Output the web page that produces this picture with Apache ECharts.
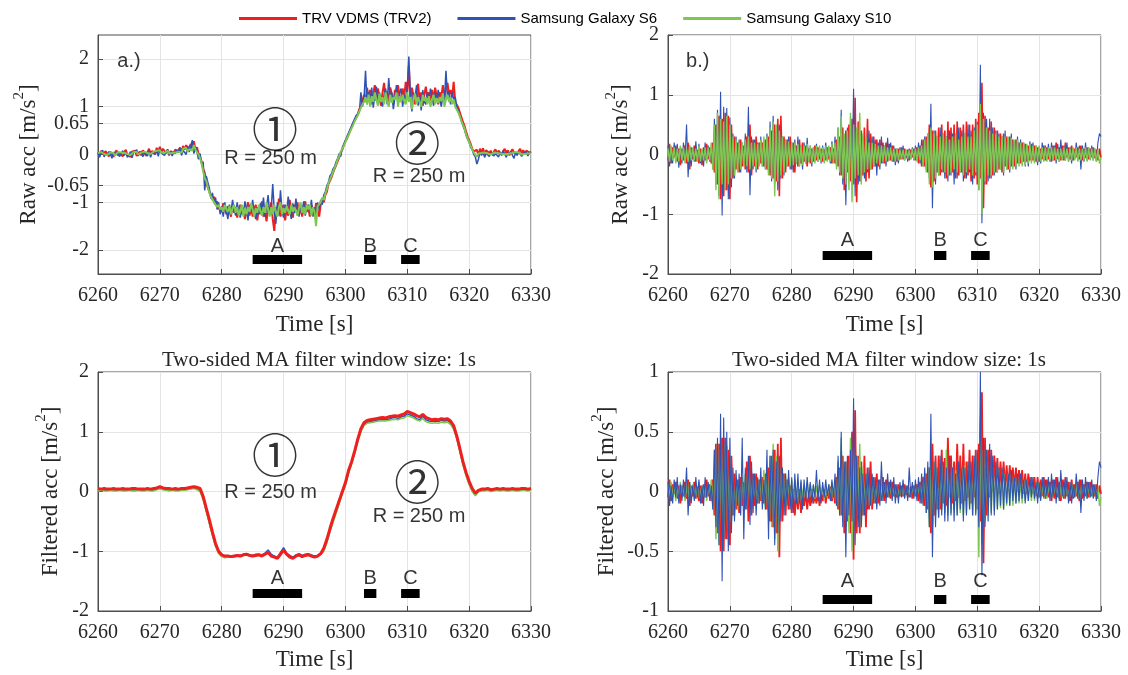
<!DOCTYPE html>
<html><head><meta charset="utf-8">
<script src="https://cdn.jsdelivr.net/npm/echarts@6/dist/echarts.min.js"></script>
<style>html,body{margin:0;padding:0;background:#fff}#c{width:1128px;height:675px}</style>
</head><body><div id="c"></div>
<script>
// ---------- sampling grid ----------
const T0 = 6260;
const DT_RAW = 0.25;   // panels a, b, d
const DT_FILT = 0.5;   // panel c
const X_TICKS_MIN = 6260, X_TICKS_MAX = 6330, X_TICK_STEP = 10;
const Y_TICKS_A = [-2, -1, -0.65, 0, 0.65, 1, 2];
const SERIES_NAMES = ['TRV VDMS (TRV2)', 'Samsung Galaxy S6', 'Samsung Galaxy S10'];

// ---------- panel a: raw acc (lateral) ----------
const RA = [
.05,-.03,.08,.01, -.02,.07,.03,-.04, .06,.0,-.05,.04, .09,-.02,.03,.07, -.04,.05,.1,-.01,
.03,-.05,.06,.02, .08,-.03,.01,.06, -.02,.09,.04,-.03, .05,.12,.02,.07, .1,.03,.14,.06,
.16,.05,.12,.08, .03,.1,-.02,.07, .09,.02,.11,.04, .06,.14,.05,.18, .1,.2,.08,.15,
.22,.12,.28,.1, .15,.02,-.05,-.15, -.3,-.38,-.6,-.62, -.78,-.82,-.95,-.88, -1.05,-.98,-1.12,-1.08,
-1.2,-1.02,-1.15,-1.25, -1.08,-1.18,-1.3,-1.05, -1.22,-1.1,-1.32,-1.15, -1.05,-1.25,-1.12,-1.35, -1.18,-1.0,-1.28,-1.1,
-1.3,-1.15,-1.05,-1.38, -1.12,-1.25,-.98,-1.3, -1.2,-1.4,-1.08,-1.22, -1.0,-1.35,-1.6,-1.1, -1.25,-.92,-1.3,-1.15,
-1.05,-1.38,-1.12,-1.28, -.95,-1.2,-1.32,-1.05, -1.15,-1.0,-1.25,-1.1, -1.3,-1.08,-.98,-1.2, -1.12,-1.3,-1.05,-1.18,
-1.25,-1.02,-1.15,-1.3, -1.05,-.92,-1.0,-.85, -.78,-.62,-.55,-.48, -.38,-.3,-.22,-.14, -.06,.05,.1,.2,
.28,.33,.42,.5, .58,.6,.72,.78, .85,.95,1.0,1.12, 1.25,1.1,1.4,1.18, 1.35,1.05,1.28,1.45,
1.12,1.38,1.2,1.02, 1.3,1.5,1.15,1.32, 1.08,1.4,1.25,1.05, 1.35,1.18,1.45,1.22, 1.1,1.38,1.2,1.52,
1.3,1.85,1.15,1.4, 1.2,1.05,1.35,1.48, 1.12,1.3,1.02,1.25, 1.42,1.18,1.3,1.1, 1.35,1.15,1.4,1.22,
1.05,1.3,1.2,1.45, 1.18,1.38,1.5,1.25, 1.35,1.2,1.52,1.1, 1.12,.98,.88,.78, .68,.6,.48,.38,
.3,.22,.12,.06, .02,.1,-.03,.12, .05,.13,.0,.09, .12,.03,.08,-.01, .06,.11,.02,.08,
.1,.0,.07,.12, .03,.09,-.02,.06, .11,.04,.08,.0, .07,.12,.03,.09, .02,.08,.1,.04,
.06];
const BA = [
.02,-.06,.04,.09, -.05,.03,-.02,.06, .01,-.08,.05,-.01, .04,.07,-.04,.02, .08,-.02,.03,-.06,
-.01,.06,-.07,.04, .03,.1,-.03,.02, .07,-.05,.05,.01, -.03,.08,-.06,.04, .06,.0,.09,-.04,
.12,.03,.07,-.02, .05,.11,.0,.06, -.03,.07,.02,.1, .04,.15,-.02,.09, .12,.0,.18,.05,
.08,.3,.02,.16, .05,-.1,.02,-.2, -.15,-.75,-.45,-.58, -.7,-.92,-.8,-1.02, -.9,-1.15,-1.0,-1.25,
-1.08,-1.3,-1.0,-1.18, -1.35,-1.05,-1.22,-.95, -1.15,-1.28,-1.0,-1.2, -1.32,-1.1,-1.25,-.98, -1.15,-1.38,-1.05,-1.2,
-.95,-1.22,-1.35,-1.1, -1.25,-1.02,-1.18,-.9, -1.3,-1.1,-.85,-1.25, -1.15,-.62,-1.2,-1.45, -1.0,-1.28,-.75,-1.2,
-1.32,-1.05,-1.2,-.88, -1.15,-1.35,-1.02,-1.22, -.92,-1.18,-1.3,-1.05, -1.2,-.98,-1.28,-1.1, -1.05,-1.22,-.95,-1.3,
-1.1,-1.35,-1.0,-1.15, -.95,-1.05,-.85,-.78, -.65,-.58,-.45,-.4, -.3,-.25,-.15,-.08, .02,-.04,.15,.22,
.2,.38,.35,.52, .5,.68,.65,.82, .78,.88,1.3,1.0, 1.15,1.75,1.05,1.3, 1.1,1.4,.98,1.25,
1.42,1.08,1.3,1.15, 1.0,1.25,1.38,1.05, 1.6,1.15,1.3,.95, 1.2,1.45,1.05,1.28, 1.38,1.0,1.25,1.15,
1.4,2.05,1.2,.9, 1.3,1.15,1.45,1.02, 1.25,.92,1.35,1.1, 1.05,1.3,1.15,1.38, 1.2,1.02,1.3,1.12,
1.35,1.15,1.0,1.25, 1.1,1.75,1.2,1.32, 1.05,1.3,1.15,1.2, 1.0,.92,.8,.7, .6,.52,.4,.32,
.25,.15,.1,.0, -.05,-.2,-.1,.05, -.02,.04,-.06,.02, .05,-.04,.03,.07, -.03,.02,.06,-.05,
.04,-.02,.08,.01, -.06,.03,-.01,.05, .02,-.08,.04,-.02, .06,.01,-.04,.03, -.01,.05,-.03,.04,
.02];
const GA = [
.03,.0,.05,.02, .01,.04,-.01,.03, .04,.01,.03,-.02, .02,.05,.01,.04, .0,.03,.06,.01,
.04,-.01,.03,.05, .02,.05,.0,.03, .04,.01,.06,.02, .03,.07,.01,.05, .06,.02,.08,.04,
.09,.04,.07,.03, .05,.08,.02,.06, .03,.07,.04,.08, .06,.1,.04,.12, .08,.14,.06,.11,
.15,.08,.2,.1, .08,.0,-.08,-.18, -.35,-.5,-.55,-.68, -.8,-.88,-.92,-1.0, -1.02,-1.1,-1.05,-1.15,
-1.1,-1.2,-1.05,-1.15, -1.2,-1.08,-1.25,-1.12, -1.05,-1.22,-1.1,-1.28, -1.18,-1.05,-1.3,-1.12, -1.25,-1.1,-1.2,-1.02,
-1.15,-1.3,-1.12,-1.22, -1.05,-1.18,-1.28,-1.1, -1.22,-1.0,-1.15,-1.3, -1.1,-1.25,-1.05,-1.2, -1.3,-1.1,-1.0,-1.25,
-1.12,-1.22,-1.08,-1.18, -1.25,-1.05,-1.2,-1.1, -1.08,-1.28,-1.12,-1.0, -1.22,-1.1,-1.25,-1.05, -1.15,-1.05,-1.28,-1.1,
-1.2,-1.5,-1.08,-1.12, -1.0,-.9,-.95,-.82, -.72,-.6,-.52,-.45, -.36,-.28,-.2,-.1, -.03,.06,.12,.18,
.26,.35,.4,.48, .55,.62,.7,.76, .82,.9,.98,1.05, 1.1,1.2,1.05,1.25, 1.0,1.22,1.1,1.3,
1.15,1.02,1.28,1.1, 1.2,1.05,1.3,1.12, 1.0,1.25,1.08,1.2, 1.15,1.3,1.0,1.22, 1.1,1.25,1.12,1.05,
1.3,1.1,1.2,.95, 1.15,1.28,1.05,1.2, 1.1,1.0,1.25,1.12, 1.2,1.05,1.22,1.0, 1.15,1.25,1.05,1.18,
1.08,1.2,1.12,1.28, 1.0,1.15,1.25,1.1, 1.2,1.05,1.15,1.0, .98,.88,.8,.7, .62,.55,.42,.34,
.26,.18,.1,.04, .0,-.05,.02,.0, .03,.0,.04,.01, .02,.05,.0,.03, .04,.01,.03,.0,
.02,.04,.01,.05, .0,.03,.02,.04, .03,.0,.05,.01, .04,.02,.0,.03, .01,.04,.02,.0,
.02];

// ---------- panel b: raw acc (vertical) ----------
const RB = [
-.1,.18,-.15,.12, -.05,.15,-.12,.1, -.18,.1,-.1,.15, -.15,.2,-.25,.12, -.08,.15,-.12,.08,
-.15,.1,-.18,.12, -.1,.18,-.08,.12, -.15,.2,-.3,.5, -.5,.65,-.75,.6, -.7,.7,-.6,.65,
-.75,.5,-.4,.3, -.25,.2,-.3,.25, -.2,.15,-.25,.3, -.3,.5,-.35,.25, -.2,.3,-.25,.2,
-.15,.2,-.2,.25, -.25,.3,-.35,.4, -.4,.5,-.45,.6, -.7,.65,-.4,.3, -.3,.25,-.2,.3,
-.25,.2,-.3,.15, -.2,.25,-.15,.2, -.12,.15,-.2,.1, -.15,.1,-.12,.15, -.1,.12,-.08,.1,
-.12,.08,-.1,.12, -.08,.12,-.15,.1, -.15,.25,-.2,.3, -.35,.45,-.6,.4, -.3,.5,-.45,.6,
-.5,.95,-.8,.55, -.45,.4,-.35,.45, -.45,.6,-.4,.35, -.25,.3,-.2,.25, -.2,.25,-.15,.2,
-.15,.2,-.12,.18, -.1,.15,-.12,.1, -.12,.1,-.08,.12, -.08,.1,-.06,.08, -.1,.08,-.05,.1,
-.1,.12,-.15,.15, -.2,.25,-.2,.3, -.3,.5,-.55,.4, -.45,.4,-.3,.45, -.35,.5,-.3,.4,
-.4,.55,-.35,.45, -.3,.5,-.4,.55, -.35,.45,-.3,.5, -.4,.55,-.35,.5, -.45,.5,-.4,.6,
-.5,.7,-.4,1.2, -.9,.65,-.5,.45, -.4,.55,-.35,.45, -.3,.4,-.25,.35, -.3,.35,-.2,.3,
-.25,.3,-.2,.25, -.2,.25,-.15,.2, -.15,.2,-.12,.18, -.12,.15,-.1,.18, -.1,.15,-.12,.12,
-.12,.1,-.08,.15, -.1,.12,-.08,.1, -.12,.15,-.1,.2, -.08,.12,-.1,.15, -.1,.2,-.05,.12,
-.08,.15,-.1,.1, -.05,.12,-.08,.15, -.1,.1,-.06,.12, -.08,.1,-.05,.12, -.06,.08,-.1,.1,
-.05];
const BB = [
.15,-.2,.1,-.15, .2,-.1,.18,-.22, .12,-.15,.2,-.08, .5,-.38,.15,-.2, .1,-.12,.22,-.1,
.18,-.15,.08,-.2, .2,-.1,.15,-.12, .1,-.25,.6,-.5, .75,-.7,1.05,-1.02, .8,-.6,.78,-.75,
.62,-.55,.35,-.4, .3,-.2,.25,-.3, .2,-.15,.35,-.3, .8,-.68,.3,-.25, .25,-.3,.2,-.15,
.3,-.2,.15,-.25, .35,-.3,.55,-.45, .65,-.5,.4,-.6, .5,-.4,.3,-.35, .25,-.2,.3,-.25,
.2,-.3,.25,-.15, .3,-.2,.15,-.25, .2,-.15,.28,-.12, .15,-.2,.12,-.1, .18,-.12,.1,-.15,
.15,-.1,.2,-.08, .12,-.15,.22,-.1, .3,-.2,.45,-.35, .75,-.5,.3,-.85, .45,-.3,.55,-.4,
1.1,-.7,.4,-.5, .35,-.45,.3,-.4, .25,-.3,.4,-.25, .3,-.2,.25,-.35, .2,-.25,.3,-.15,
.15,-.2,.28,-.1, .2,-.12,.15,-.18, .1,-.15,.12,-.08, .15,-.1,.08,-.12, .1,-.08,.12,-.1,
.15,-.1,.2,-.15, .25,-.2,.3,-.25, .35,-.4,.85,-.9, .4,-.5,.3,-.35, .45,-.3,.35,-.4,
.3,-.45,.4,-.35, .35,-.5,.3,-.4, .45,-.3,.4,-.45, .35,-.4,.5,-.3, .4,-.5,.45,-.35,
.55,-.6,1.5,-1.15, .7,-.5,.6,-.45, .6,-.4,.45,-.35, .4,-.3,.35,-.25, .3,-.35,.4,-.25,
.25,-.3,.35,-.2, .2,-.25,.3,-.15, .25,-.15,.2,-.2, .15,-.2,.22,-.1, .2,-.12,.15,-.18,
.12,-.15,.2,-.1, .15,-.08,.18,-.12, .2,-.1,.15,-.15, .18,-.12,.25,-.08, .15,-.1,.2,-.12,
.12,-.15,.1,-.08, .2,-.1,.15,-.25, .15,-.12,.2,-.1, .12,-.08,.15,-.1, .1,-.12,.2,.35,
.3];
const GB = [
.1,-.12,.15,-.1, .12,-.15,.1,-.12, .15,-.1,.12,-.15, .1,-.12,.15,-.1, .12,-.1,.1,-.12,
.15,-.12,.1,-.1, .12,-.15,.12,-.1, .2,-.25,.5,-.6, .7,-.75,.6,-.5, .55,-.6,.65,-.5,
.5,-.4,.3,-.35, .25,-.3,.2,-.25, .2,-.2,.25,-.2, .3,-.25,.2,-.2, .2,-.25,.18,-.2,
.25,-.2,.3,-.25, .3,-.35,.45,-.4, .55,-.7,.5,-.45, .4,-.35,.3,-.3, .25,-.2,.22,-.2,
.2,-.18,.2,-.15, .18,-.2,.15,-.18, .15,-.15,.18,-.12, .15,-.15,.12,-.15, .15,-.12,.15,-.12,
.12,-.15,.15,-.12, .15,-.12,.18,-.15, .2,-.25,.45,-.3, .65,-.4,.35,-.5, .4,-.6,.7,-.8,
.5,-.4,.45,-.35, .7,-.5,.35,-.3, .3,-.25,.2,-.25, .2,-.2,.18,-.15, .15,-.18,.15,-.12,
.15,-.12,.12,-.1, .12,-.1,.1,-.12, .1,-.1,.08,-.08, .08,-.1,.08,-.07, .07,-.08,.1,-.08,
.1,-.12,.12,-.1, .15,-.2,.25,-.3, .35,-.5,.45,-.55, .35,-.4,.3,-.35, .3,-.25,.35,-.3,
.3,-.35,.25,-.3, .3,-.25,.35,-.3, .25,-.3,.3,-.35, .35,-.3,.3,-.25, .3,-.35,.4,-.3,
.5,-.6,.85,-1.0, .6,-.45,.45,-.35, .4,-.35,.35,-.3, .35,-.3,.3,-.25, .3,-.3,.3,-.25,
.3,-.25,.28,-.25, .25,-.2,.25,-.2, .2,-.2,.2,-.18, .18,-.15,.18,-.15, .15,-.15,.15,-.12,
.15,-.12,.12,-.12, .12,-.12,.12,-.1, .12,-.1,.12,-.1, .1,-.12,.1,-.1, .12,-.1,.1,-.12,
.1,-.1,.12,-.1, .12,-.12,.1,-.1, .1,-.1,.12,-.12, .12,-.1,.1,-.1, .1,-.12,.08,-.15,
-.05];

// ---------- panel c: filtered acc (lateral) ----------
const RC = [
.05,.04,.05,.04,.04,.05,.04,.04,.05,.04,.04,.05,.05,.04,.04,.04,.05,.04,.05,.06,
.08,.06,.05,.05,.04,.05,.04,.05,.05,.06,.07,.08,.07,.05,
-.08,-.28,-.47,-.68,-.87,-1.0,
-1.06,-1.08,-1.08,-1.09,-1.08,-1.07,-1.08,-1.06,-1.05,-1.07,-1.08,-1.07,-1.06,-1.08,-1.05,-1.02,-1.08,-1.1,-1.12,-1.05,
-.98,-1.05,-1.1,-1.12,-1.08,-1.06,-1.09,-1.07,-1.06,-1.08,-1.1,-1.08,-1.04,-.95,-.8,-.62,-.45,-.3,-.15,.0,
.15,.35,.5,.68,.88,1.05,1.15,1.19,1.2,1.21,1.22,1.23,1.24,1.23,1.25,1.26,1.27,1.26,1.28,1.3,
1.34,1.32,1.3,1.27,1.25,1.29,1.24,1.22,1.2,1.21,1.2,1.22,1.21,1.22,1.18,1.1,.93,.72,.5,.32,
.17,.05,-.03,.02,.04,.04,.05,.03,.04,.05,.04,.05,.04,.04,.05,.04,.04,.05,.05,.04,
.05];
const BC = [
.02,.03,.02,.02,.03,.02,.02,.03,.02,.02,.03,.02,.02,.03,.02,.02,.03,.02,.02,.04,
.06,.04,.03,.02,.03,.02,.02,.03,.03,.04,.05,.06,.04,.01,
-.12,-.32,-.52,-.72,-.9,-1.02,
-1.07,-1.09,-1.09,-1.08,-1.09,-1.06,-1.07,-1.05,-1.04,-1.06,-1.07,-1.05,-1.05,-1.06,-1.03,-.98,-1.05,-1.08,-1.1,-1.02,
-.94,-1.03,-1.07,-1.1,-1.06,-1.04,-1.07,-1.05,-1.04,-1.06,-1.08,-1.07,-1.05,-.98,-.84,-.66,-.5,-.34,-.18,-.02,
.12,.32,.47,.65,.85,1.02,1.12,1.16,1.17,1.18,1.19,1.2,1.2,1.2,1.21,1.23,1.24,1.22,1.25,1.26,
1.3,1.28,1.26,1.22,1.2,1.26,1.2,1.18,1.17,1.18,1.17,1.19,1.18,1.19,1.15,1.06,.9,.68,.46,.28,
.13,.01,-.06,.0,.02,.02,.03,.01,.02,.03,.02,.03,.02,.02,.03,.02,.02,.03,.03,.02,
.03];
const GC = [
.01,.02,.01,.01,.02,.01,.01,.02,.01,.01,.02,.01,.01,.02,.01,.01,.02,.01,.01,.03,
.04,.03,.02,.01,.02,.01,.01,.02,.02,.03,.04,.05,.03,.0,
-.14,-.34,-.54,-.74,-.92,-1.04,
-1.09,-1.11,-1.1,-1.1,-1.1,-1.08,-1.09,-1.07,-1.06,-1.08,-1.09,-1.07,-1.07,-1.08,-1.06,-1.01,-1.07,-1.1,-1.12,-1.04,
-.98,-1.05,-1.09,-1.12,-1.08,-1.06,-1.09,-1.07,-1.06,-1.08,-1.1,-1.09,-1.06,-1.0,-.86,-.68,-.52,-.36,-.2,-.04,
.1,.3,.45,.63,.83,1.0,1.1,1.14,1.15,1.16,1.17,1.18,1.18,1.18,1.19,1.2,1.21,1.2,1.22,1.23,
1.27,1.25,1.23,1.2,1.18,1.22,1.17,1.15,1.14,1.15,1.14,1.16,1.15,1.16,1.12,1.04,.88,.66,.44,.26,
.11,.0,-.07,-.01,.01,.01,.02,.0,.01,.02,.01,.02,.01,.01,.02,.01,.01,.02,.02,.01,
.02];

// ---------- panel d: filtered acc (vertical) ----------
const RD = [
-.05,.1,-.08,.06, -.02,.08,-.06,.05, -.1,.05,-.04,.08, -.06,.1,-.12,.05, -.04,.08,-.06,.04,
-.08,.05,-.1,.06, -.05,.1,-.04,.06, -.08,.1,-.2,.4, -.35,.4,-.5,.45, -.5,.45,-.4,.35,
-.45,.3,-.2,.15, -.15,.1,-.18,.12, -.12,.08,-.15,.25, -.25,.3,-.2,.15, -.12,.15,-.1,.1,
-.08,.12,-.1,.15, -.15,.2,-.25,.3, -.3,.35,-.35,.4, -.55,.45,-.25,.15, -.2,.1,-.15,.05,
-.18,.02,-.2,.0, -.15,.02,-.18,-.02, -.12,.0,-.15,-.02, -.12,.02,-.1,-.04, -.1,.0,-.12,-.02,
-.08,.02,-.1,.0, -.06,.04,-.08,.02, -.1,.12,-.15,.2, -.2,.3,-.35,.25, -.25,.3,-.35,.5,
-.57,.68,-.35,.3, -.35,.25,-.2,.3, -.3,.2,-.15,.25, -.15,.12,-.1,.15, -.1,.1,-.08,.12,
-.08,.1,-.05,.08, -.06,.08,-.04,.06, -.05,.06,-.04,.05, -.04,.06,-.03,.05, -.05,.04,-.06,.05,
-.04,.06,-.08,.08, -.1,.12,-.12,.15, -.15,.2,-.35,.4, -.2,.3,-.15,.3, -.15,.35,-.1,.28,
-.12,.45,-.05,.3, -.1,.25,-.08,.4, -.05,.3,-.1,.4, -.08,.25,-.05,.35, -.1,.3,-.05,.35,
-.15,.4,-.25,.83, -.6,.45,-.2,.35, -.05,.35,.0,.3, .02,.28,-.02,.25, .0,.25,.02,.22,
.0,.22,.02,.2, .02,.2,.0,.18, .0,.18,-.02,.15, -.02,.15,.0,.12, -.02,.12,-.04,.12,
-.05,.1,-.04,.12, -.06,.1,-.05,.08, -.08,.1,-.06,.12, -.05,.08,-.08,.1, -.06,.12,-.04,.08,
-.08,.1,-.06,.06, -.04,.08,-.08,.1, -.06,.06,-.04,.08, -.05,.08,-.04,.06, -.04,.06,-.06,.05,
-.02];
const BD = [
.08,-.12,.05,-.1, .1,-.05,.12,-.1, .06,-.08,.1,-.05, .2,-.2,.08,-.1, .05,-.08,.12,-.05,
.1,-.1,.05,-.12, .12,-.05,.08,-.08, .05,-.15,.35,-.3, .45,-.45,.65,-.75, .62,-.4,.5,-.5,
.45,-.35,.2,-.25, .18,-.12,.15,-.2, .45,-.4,.2,-.15, .3,-.28,.25,-.18, .15,-.2,.12,-.1,
.2,-.15,.1,-.15, .35,-.4,.3,-.25, .35,-.45,.25,-.35, .3,-.25,.2,-.2, .15,-.12,.18,-.15,
.12,-.18,.15,-.1, .15,-.1,.1,-.15, .1,-.08,.12,-.06, .08,-.1,.06,-.05, .18,-.08,.1,-.1,
.08,-.05,.1,-.04, .06,-.08,.1,-.05, .15,-.12,.3,-.2, .5,-.3,.25,-.55, .3,-.2,.35,-.25,
.78,-.45,.3,-.3, .2,-.3,.15,-.2, .15,-.15,.2,-.12, .15,-.1,.12,-.15, .1,-.12,.25,-.08,
.08,-.1,.15,-.05, .1,-.08,.12,-.1, .06,-.1,.08,-.05, .1,-.06,.05,-.08, .2,-.05,.08,-.06,
.1,-.08,.12,-.1, .15,-.12,.2,-.18, .25,-.3,.65,-.55, .25,-.3,.2,-.22, .3,-.2,.25,-.25,
.2,-.25,.3,-.2, .2,-.25,.15,-.2, .25,-.15,.2,-.25, .2,-.2,.25,-.15, .25,-.2,.3,-.2,
.35,-.3,1.0,-.7, .45,-.3,.35,-.25, .4,-.2,.3,-.2, .25,-.15,.2,-.12, .2,-.15,.15,-.1,
.15,-.12,.18,-.08, .12,-.1,.15,-.08, .15,-.06,.1,-.1, .1,-.08,.12,-.05, .12,-.06,.08,-.1,
.08,-.08,.12,-.05, .1,-.04,.12,-.08, .15,-.05,.1,-.1, .12,-.08,.18,-.04, .1,-.06,.12,-.1,
.08,-.1,.06,-.05, .15,-.06,.1,-.18, .1,-.08,.12,-.06, .08,-.05,.1,-.06, .06,-.08,.12,.25,
.2];
const GD = [
.06,-.06,.08,-.05, .06,-.08,.05,-.06, .08,-.05,.06,-.08, .05,-.06,.08,-.05, .06,-.05,.05,-.06,
.08,-.06,.05,-.05, .06,-.08,.06,-.05, .1,-.15,.35,-.4, .4,-.45,.35,-.3, .4,-.35,.38,-.3,
.3,-.25,.15,-.2, .12,-.15,.1,-.12, .12,-.1,.15,-.12, .18,-.15,.12,-.1, .1,-.12,.1,-.1,
.12,-.1,.18,-.15, .2,-.2,.3,-.3, .4,-.4,.3,-.5, .25,-.2,.15,-.15, .15,-.12,.12,-.1,
.1,-.1,.1,-.08, .08,-.1,.08,-.06, .06,-.06,.08,-.05, .06,-.05,.05,-.06, .05,-.05,.06,-.04,
.05,-.06,.04,-.05, .06,-.05,.08,-.06, .1,-.12,.25,-.2, .45,-.25,.2,-.3, .25,-.35,.45,-.5,
.35,-.25,.3,-.2, .4,-.3,.2,-.15, .15,-.12,.1,-.12, .1,-.1,.08,-.08, .08,-.08,.06,-.06,
.06,-.05,.06,-.05, .05,-.05,.04,-.05, .04,-.04,.05,-.04, .04,-.05,.04,-.03, .03,-.04,.05,-.04,
.05,-.06,.06,-.05, .08,-.1,.15,-.18, .2,-.3,.3,-.3, .25,-.2,.2,-.22, .2,-.15,.22,-.18,
.35,-.2,.15,-.18, .2,-.15,.18,-.2, .15,-.18,.2,-.2, .22,-.18,.2,-.15, .2,-.2,.25,-.18,
.3,-.55,.62,-.45, .35,-.25,.25,-.2, .22,-.18,.2,-.16, .2,-.15,.18,-.14, .16,-.15,.15,-.12,
.15,-.12,.14,-.12, .12,-.1,.12,-.1, .1,-.1,.1,-.08, .1,-.08,.08,-.08, .08,-.08,.08,-.06,
.08,-.06,.06,-.06, .06,-.06,.06,-.05, .06,-.05,.06,-.05, .05,-.06,.05,-.05, .06,-.05,.05,-.06,
.05,-.05,.06,-.05, .06,-.06,.05,-.05, .05,-.05,.06,-.06, .06,-.05,.05,-.05, .05,-.06,.04,-.12,
-.05];

// ---------- section markers A/B/C ----------
const SEGMENTS = [['A', 6285, 6293], ['B', 6303, 6305], ['C', 6309, 6312]];
const SEG_BAR_Y   = [-2.2, -1.69, -1.71, -0.9];   // per panel a,b,c,d
const SEG_LABEL_Y = [-1.92, -1.44, -1.46, -0.75];

// ---------- text annotations [text, x, y] ----------
const TAGS = [['a.)', 6265.0, 1.95], ['b.)', 6264.8, 1.56], null, null];
const CURVES = [
  [['\u2460', 6288.6, 0.55], ['\u2461', 6311.6, 0.26]],
  [],
  [['\u2460', 6288.6, 0.62], ['\u2461', 6311.6, 0.17]],
  []
];
const RADII = [
  [['R = 250 m', 6287.9, -0.08], ['R = 250 m', 6311.9, -0.47]],
  [],
  [['R = 250 m', 6287.9, -0.02], ['R = 250 m', 6311.9, -0.42]],
  []
];

// ---------- styling / layout ----------
const SERIF = '"Liberation Serif","Times New Roman",serif';
const SANS = '"Liberation Sans",Arial,sans-serif';
const COLORS = ['#f01e1e', '#2f52b5', '#7cc850'];
const GRIDS = [
  {left: 98, top: 35, width: 433, height: 239},
  {left: 668, top: 35, width: 433, height: 239},
  {left: 98, top: 372, width: 433, height: 239},
  {left: 668, top: 372, width: 433, height: 239}
];
const Y_CFG = [
  {min: -2.5, max: 2.5, custom: Y_TICKS_A, name: 'Raw acc [m/s', gap: 58},
  {min: -2, max: 2, interval: 1, name: 'Raw acc [m/s', gap: 36},
  {min: -2, max: 2, interval: 1, name: 'Filtered acc [m/s', gap: 36},
  {min: -1, max: 1, interval: 0.5, name: 'Filtered acc [m/s', gap: 50}
];
const X_NAME_GAP = [39, 39, 37, 37];
const AXIS_COLOR = '#4d4d4d';

const xAxes = GRIDS.map((g, i) => ({
  gridIndex: i, type: 'value', min: X_TICKS_MIN, max: X_TICKS_MAX, interval: X_TICK_STEP,
  axisLine: {show: true, onZero: false, lineStyle: {color: AXIS_COLOR, width: 1}},
  axisTick: {show: true, inside: true, length: 5, lineStyle: {color: AXIS_COLOR}},
  splitLine: {show: true, lineStyle: {color: '#e4e4e4', width: 1}},
  axisLabel: {fontFamily: SERIF, fontSize: 20, color: '#262626', margin: 12, formatter: v => String(v)},
  name: 'Time [s]', nameLocation: 'middle', nameGap: X_NAME_GAP[i],
  nameTextStyle: {fontFamily: SERIF, fontSize: 23, color: '#262626'}
}));
const yAxes = Y_CFG.map((c, i) => {
  const ax = {
    gridIndex: i, type: 'value', min: c.min, max: c.max,
    axisLine: {show: true, onZero: false, lineStyle: {color: AXIS_COLOR, width: 1}},
    axisTick: {show: true, inside: true, length: 5, lineStyle: {color: AXIS_COLOR}},
    splitLine: {show: true, lineStyle: {color: '#e4e4e4', width: 1}},
    axisLabel: {fontFamily: SERIF, fontSize: 20, color: '#262626', margin: 9, formatter: v => String(v)},
    name: '{b|' + c.name + '}{s|2}{b|]}', nameLocation: 'middle', nameGap: c.gap, nameRotate: 90,
    nameTextStyle: {
      color: '#262626',
      rich: {
        b: {fontFamily: SERIF, fontSize: 23, color: '#262626', lineHeight: 28, verticalAlign: 'bottom'},
        s: {fontFamily: SERIF, fontSize: 15, color: '#262626', lineHeight: 28, verticalAlign: 'top', padding: [0, 0, 8, 0]}
      }
    }
  };
  if (c.custom) {
    ax.axisTick.customValues = c.custom;
    ax.axisLabel.customValues = c.custom;
  } else {
    ax.interval = c.interval;
  }
  return ax;
});

function lineSeries(name, color, arr, dt, gi, width, z) {
  return {
    type: 'line', name, xAxisIndex: gi, yAxisIndex: gi,
    data: arr.map((v, k) => [T0 + k * dt, v]),
    symbol: 'none', showSymbol: false, silent: true, z,
    lineStyle: {color, width}, itemStyle: {color}
  };
}

const series = [];
// panel a : red, blue, green (green on top)
series.push(lineSeries(SERIES_NAMES[0], COLORS[0], RA, DT_RAW, 0, 2.0, 2));
series.push(lineSeries(SERIES_NAMES[1], COLORS[1], BA, DT_RAW, 0, 1.5, 3));
series.push(lineSeries(SERIES_NAMES[2], COLORS[2], GA, DT_RAW, 0, 2.0, 4));
// panel b
series.push(lineSeries(SERIES_NAMES[0], COLORS[0], RB, DT_RAW, 1, 1.6, 2));
series.push(lineSeries(SERIES_NAMES[1], COLORS[1], BB, DT_RAW, 1, 1.1, 3));
series.push(lineSeries(SERIES_NAMES[2], COLORS[2], GB, DT_RAW, 1, 1.4, 4));
// panel c : red on top, thick
series.push(lineSeries(SERIES_NAMES[1], COLORS[1], BC, DT_FILT, 2, 1.5, 2));
series.push(lineSeries(SERIES_NAMES[2], COLORS[2], GC, DT_FILT, 2, 1.5, 3));
series.push(lineSeries(SERIES_NAMES[0], COLORS[0], RC, DT_FILT, 2, 3, 4));
// panel d
series.push(lineSeries(SERIES_NAMES[0], COLORS[0], RD, DT_RAW, 3, 1.8, 2));
series.push(lineSeries(SERIES_NAMES[2], COLORS[2], GD, DT_RAW, 3, 1.4, 3));
series.push(lineSeries(SERIES_NAMES[1], COLORS[1], BD, DT_RAW, 3, 1.1, 4));

function textSeries(items, gi, font, size) {
  return {
    type: 'scatter', xAxisIndex: gi, yAxisIndex: gi, silent: true, z: 10,
    symbolSize: 1, itemStyle: {color: 'rgba(0,0,0,0)'},
    data: items.map(t => ({value: [t[1], t[2]], name: t[0]})),
    label: {show: true, position: 'inside', formatter: p => p.name,
            fontFamily: font, fontSize: size, color: '#000'}
  };
}

for (let i = 0; i < 4; i++) {
  // black section bars
  series.push({
    type: 'lines', coordinateSystem: 'cartesian2d', xAxisIndex: i, yAxisIndex: i,
    silent: true, z: 9, polyline: false,
    lineStyle: {color: '#000', width: 9, opacity: 1, cap: 'butt'},
    data: SEGMENTS.map(s => ({coords: [[s[1], SEG_BAR_Y[i]], [s[2], SEG_BAR_Y[i]]]}))
  });
  series.push(textSeries(SEGMENTS.map(s => [s[0], (s[1] + s[2]) / 2, SEG_LABEL_Y[i]]), i, SANS, 20));
  if (TAGS[i]) series.push(textSeries([TAGS[i]], i, SANS, 20));
  if (CURVES[i].length) series.push(textSeries(CURVES[i], i, '"Noto Sans CJK SC","DejaVu Sans",sans-serif', 46));
  if (RADII[i].length) series.push(textSeries(RADII[i], i, SANS, 20));
}

const chart = echarts.init(document.getElementById('c'), null, {renderer: 'canvas'});
chart.setOption({
  animation: false,
  backgroundColor: '#fff',
  title: [
    {text: 'Two-sided MA filter window size: 1s', left: 314, top: 345, textAlign: 'center',
     textStyle: {fontFamily: SERIF, fontSize: 21, fontWeight: 'normal', color: '#262626'}},
    {text: 'Two-sided MA filter window size: 1s', left: 884, top: 345, textAlign: 'center',
     textStyle: {fontFamily: SERIF, fontSize: 21, fontWeight: 'normal', color: '#262626'}}
  ],
  legend: {
    data: SERIES_NAMES, left: 234, top: 6, icon: 'rect', itemWidth: 58, itemHeight: 3, itemGap: 26,
    textStyle: {fontFamily: SANS, fontSize: 15, color: '#000'}
  },
  grid: GRIDS.map(g => Object.assign({show: true, borderColor: AXIS_COLOR, borderWidth: 1, backgroundColor: 'rgba(0,0,0,0)', containLabel: false}, g)),
  xAxis: xAxes,
  yAxis: yAxes,
  series
});
</script>
</body></html>
